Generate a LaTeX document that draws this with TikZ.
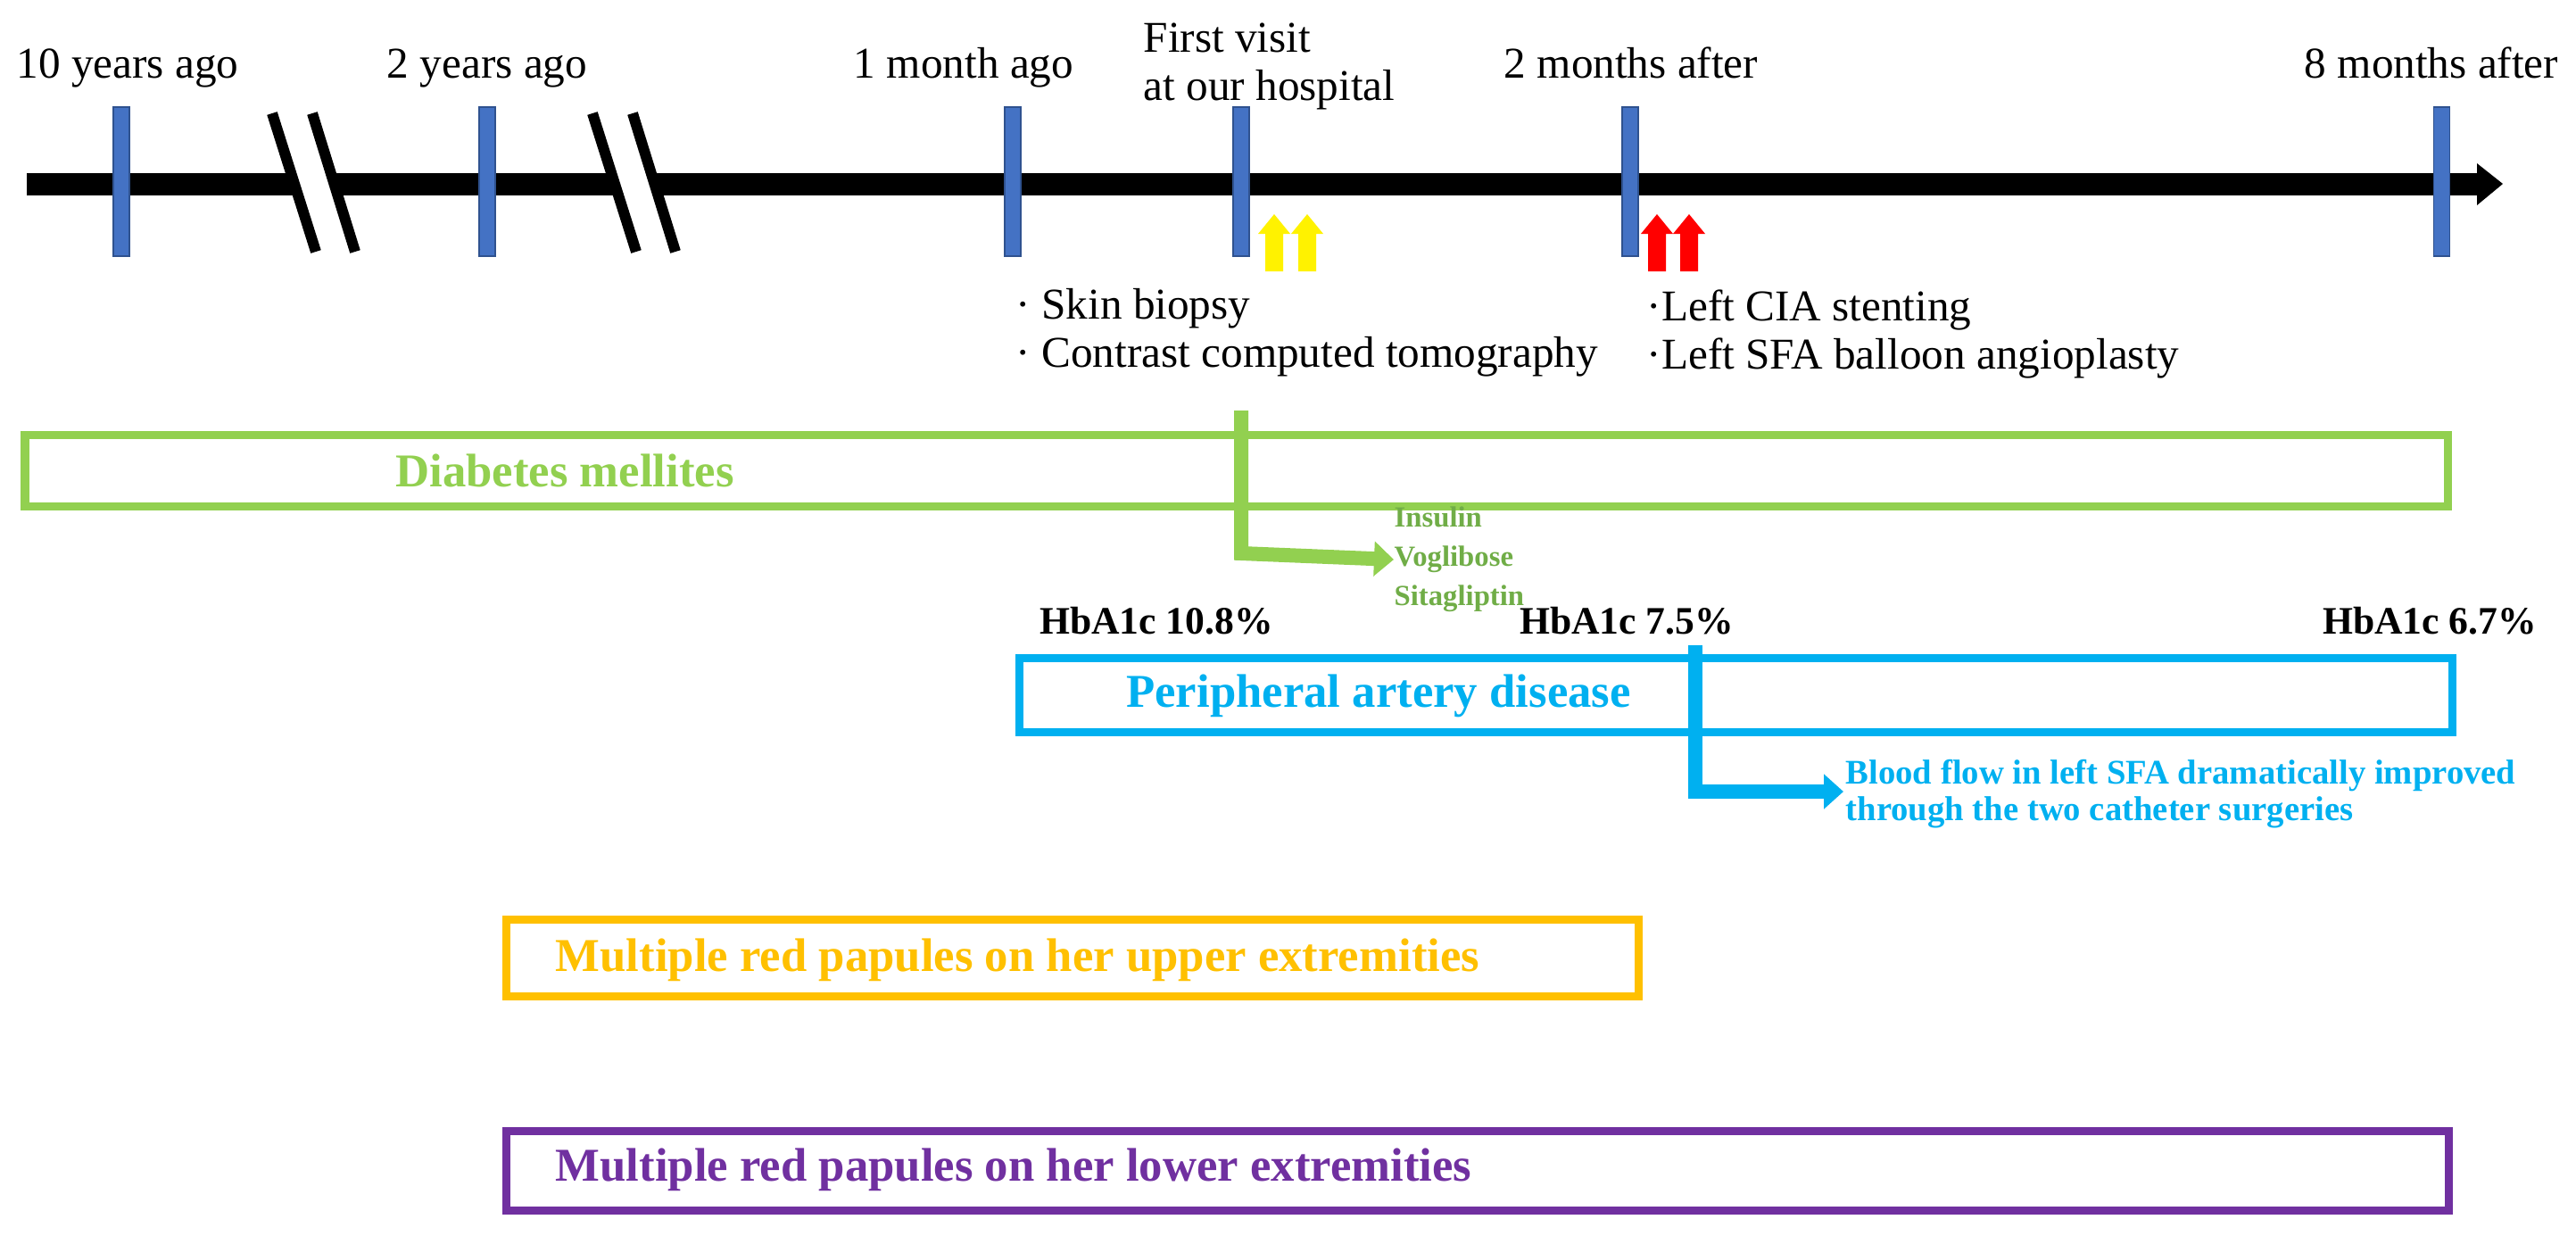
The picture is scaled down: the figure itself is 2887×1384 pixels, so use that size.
\documentclass[tikz,border=0pt]{standalone}
\usepackage{fontspec}
\setmainfont{Liberation Serif}
\usetikzlibrary{arrows.meta}
\definecolor{dmgreen}{HTML}{92D050}
\definecolor{padblue}{HTML}{00B0F0}
\definecolor{uporange}{HTML}{FFC000}
\definecolor{lowpurple}{HTML}{7030A0}
\definecolor{tickblue}{HTML}{4472C4}
\definecolor{tickedge}{HTML}{2F528F}
\definecolor{grtext}{HTML}{70AD47}
\begin{document}
\begin{tikzpicture}[x=0.01cm,y=-0.01cm,
  tick/.style={fill=tickblue,draw=tickedge,line width=0.3pt},
  lbl/.style={font=\fontsize{14}{16}\selectfont,inner sep=0pt},
  brk/.style={line width=12\pgflinewidth/\pgflinewidth*0.01cm},
  box/.style={line width=0.09cm},
  boxlbl/.style={font=\fontsize{15}{18}\selectfont\bfseries,inner sep=0pt},
  hb/.style={font=\fontsize{12.4}{14}\selectfont\bfseries,inner sep=0pt},
  elbow/.style={line width=0.16cm,-{Triangle[length=0.22cm,width=0.38cm]}},
  blk/.style={fill=#1}]
\useasboundingbox (0,0) rectangle (2887,1384);
% axis
\draw[line width=0.25cm] (30,206) -- (2780,206);
\fill (2776,183) -- (2805,206) -- (2776,230) -- cycle;
% breaks
\foreach \a in {305,664}{
  \fill[white] (\a,127) -- (\a+45,127) -- (\a+93,282) -- (\a+49,282) -- cycle;
  \draw[line width=0.12cm] (\a,127) -- (\a+49,282);
  \draw[line width=0.12cm] (\a+45,127) -- (\a+93,282);
}
% ticks
\foreach \x in {136,546,1135,1391,1827,2736}
  \draw[tick] (\x-9,120) rectangle (\x+9,287);
% labels
\node[lbl,anchor=base] (t10) at (143,87) {10 years ago};
\node[lbl,anchor=base] (t2) at (546,87) {2 years ago};
\node[lbl,anchor=base] (t1m) at (1080,87) {1 month ago};
\node[lbl,anchor=base west] (fv1) at (1281,58) {First visit};
\node[lbl,anchor=base west] (fv2) at (1281,112) {at our hospital};
\node[lbl,anchor=base] (a2) at (1828,87) {2 months after};
\node[lbl,anchor=base] (a8) at (2725,87) {8 months after};
% double arrows
\foreach \L/\c in {1410/yellow,1447/yellow,1839/red,1875/red}
  \fill[\c] (\L+8,304) -- (\L+8,262) -- (\L,262) -- (\L+18,240) -- (\L+36,262) -- (\L+28,262) -- (\L+28,304) -- cycle;
% procedures
\node[lbl,anchor=base west] (p1) at (1138,357) {· Skin biopsy};
\node[lbl,anchor=base west] (p2) at (1138,411) {· Contrast computed tomography};
\node[lbl,anchor=base west] (p3) at (1845,359) {·Left CIA stenting};
\node[lbl,anchor=base west] (p4) at (1845,413) {·Left SFA balloon angioplasty};
% diabetes box
\draw[box,dmgreen] (28,487) rectangle (2743,567);
\node[boxlbl,text=dmgreen] (dm) at (633,527) {Diabetes mellites};
\coordinate (g0) at (1391,460);
\coordinate (g1) at (1391,620);
\node[inner sep=0pt,anchor=west,align=left,text=grtext,font=\fontsize{9.3}{12.5}\selectfont\bfseries] (meds) at (1562,627) {Insulin\\Voglibose\\Sitagliptin};
\draw[elbow,dmgreen] (g0) -- (g1) -- (meds.west);
% HbA1c
\node[hb,anchor=base] (h1) at (1296,710) {HbA1c 10.8\%};
\node[hb,anchor=base] (h2) at (1823,710) {HbA1c 7.5\%};
\node[hb,anchor=base] (h3) at (2723,710) {HbA1c 6.7\%};
% PAD box
\draw[box,padblue] (1142,737) rectangle (2748,820);
\node[boxlbl,text=padblue] (pad) at (1545,780) {Peripheral artery disease};
\coordinate (b0) at (1900,723);
\coordinate (b1) at (1900,887);
\node[inner sep=0pt,anchor=west,align=left,text=padblue,font=\fontsize{11}{11.7}\selectfont\bfseries] (bf) at (2068,890) {Blood flow in left SFA dramatically improved\\through the two catheter surgeries};
\coordinate (b2) at (2066,887);
\draw[elbow,padblue] (b0) -- (b1) -- (b2);
% upper extremities
\draw[box,uporange] (567,1030) rectangle (1836,1116);
\node[boxlbl,text=uporange,anchor=west] (up) at (622,1076) {Multiple red papules on her upper extremities};
% lower extremities
\draw[box,lowpurple] (567,1267) rectangle (2744,1356);
\node[boxlbl,text=lowpurple,anchor=west] (low) at (622,1311) {Multiple red papules on her lower extremities};
\end{tikzpicture}
\end{document}
